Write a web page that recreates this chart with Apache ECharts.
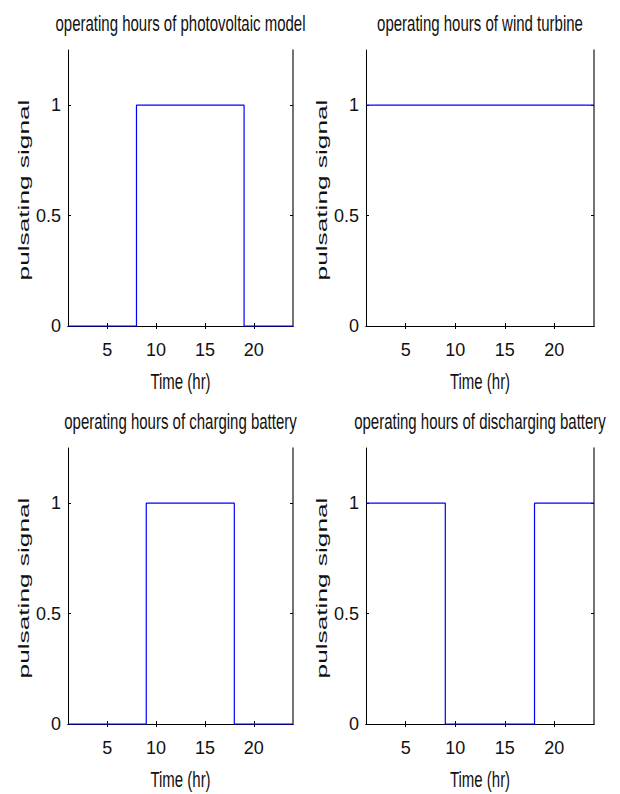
<!DOCTYPE html>
<html>
<head>
<meta charset="utf-8">
<script src="https://cdn.jsdelivr.net/npm/echarts@6/dist/echarts.min.js"></script>
<style>
html,body{margin:0;padding:0;background:#fff;}
#chart{width:620px;height:794px;}
</style>
</head>
<body>
<div id="chart"></div>
<script>
// ---- data ----
var hours = [1,2,3,4,5,6,7,8,9,10,11,12,13,14,15,16,17,18,19,20,21,22,23,24];
var pvSignal = [0,0,0,0,0,0,0,1,1,1,1,1,1,1,1,1,1,1,0,0,0,0,0,0];
var windSignal = [1,1,1,1,1,1,1,1,1,1,1,1,1,1,1,1,1,1,1,1,1,1,1,1];
var chargeSignal = [0,0,0,0,0,0,0,0,1,1,1,1,1,1,1,1,1,0,0,0,0,0,0,0];
var dischargeSignal = [1,1,1,1,1,1,1,1,0,0,0,0,0,0,0,0,0,1,1,1,1,1,1,1];
var xTicks = [5,10,15,20];
var yTicks = [0,0.5,1];
var titles = ['operating hours of photovoltaic model','operating hours of wind turbine',
              'operating hours of charging battery','operating hours of discharging battery'];
var xName = 'Time (hr)';
var yName = 'pulsating signal';
var signals = [pvSignal, windSignal, chargeSignal, dischargeSignal];

// ---- layout ----
var grids = [
  {left:68, top:50, width:225, height:276},
  {left:366, top:50, width:228, height:276},
  {left:68, top:448, width:225, height:276},
  {left:366, top:448, width:228, height:276}
];
var tickFont = {fontFamily:'Liberation Sans Narrow, Liberation Sans, Arial', fontSize:18, color:'#111'};

var opt = {
  backgroundColor:'#fff',
  animation:false,
  grid:[], xAxis:[], yAxis:[], series:[], graphic:[]
};

grids.forEach(function(g, i){
  opt.grid.push({left:g.left, top:g.top, width:g.width, height:g.height, containLabel:false});
  var line = {show:true, lineStyle:{color:'#000', width:1}};
  // bottom x
  opt.xAxis.push({type:'value', gridIndex:i, position:'bottom', min:1, max:24,
    axisLine:line, splitLine:{show:false},
    axisTick:{show:true, inside:true, length:3, customValues:xTicks, lineStyle:{color:'#000'}},
    axisLabel:Object.assign({show:true, margin:15, customValues:xTicks}, tickFont)});
  // top x (box)
  opt.xAxis.push({type:'value', gridIndex:i, position:'top', min:1, max:24,
    axisLine:line, splitLine:{show:false},
    axisTick:{show:true, inside:true, length:3, customValues:xTicks, lineStyle:{color:'#000'}},
    axisLabel:{show:false}});
  // left y
  opt.yAxis.push({type:'value', gridIndex:i, position:'left', min:0, max:1.25,
    axisLine:line, splitLine:{show:false},
    axisTick:{show:true, inside:true, length:3, customValues:yTicks, lineStyle:{color:'#000'}},
    axisLabel:Object.assign({show:true, margin:7, customValues:yTicks,
      formatter:function(v){return String(v);}}, tickFont)});
  // right y (box)
  opt.yAxis.push({type:'value', gridIndex:i, position:'right', min:0, max:1.25,
    axisLine:{show:true, lineStyle:{color:'#444', width:1.5}}, splitLine:{show:false},
    axisTick:{show:true, inside:true, length:3, customValues:yTicks, lineStyle:{color:'#000'}},
    axisLabel:{show:false}});

  var pts = hours.map(function(h, k){ return [h, signals[i][k]]; });
  opt.series.push({type:'line', xAxisIndex:2*i, yAxisIndex:2*i, data:pts, step:'end',
    showSymbol:false, symbol:'none', clip:false,
    lineStyle:{color:'#0000ff', width:1.2}});

  var cx = g.left + g.width/2;
  // title
  opt.graphic.push({type:'text', x:cx, y:g.top - 27, scaleY:1.45,
    style:{text:titles[i], fontFamily:'Liberation Sans, Arial', fontSize:15, fill:'#111',
      align:'center', verticalAlign:'middle'}});
  // x axis name
  opt.graphic.push({type:'text', x:cx, y:g.top + g.height + 55, scaleY:1.45,
    style:{text:xName, fontFamily:'Liberation Sans, Arial', fontSize:15, fill:'#111',
      align:'center', verticalAlign:'middle'}});
  // y axis name
  opt.graphic.push({type:'text', x:g.left - 44, y:g.top + 140, rotation:Math.PI/2, scaleX:1.75,
    style:{text:yName, fontFamily:'Liberation Sans, Arial', fontSize:15, fill:'#111',
      align:'center', verticalAlign:'middle'}});
});

var chart = echarts.init(document.getElementById('chart'), null, {renderer:'svg'});
chart.setOption(opt);
</script>
</body>
</html>
